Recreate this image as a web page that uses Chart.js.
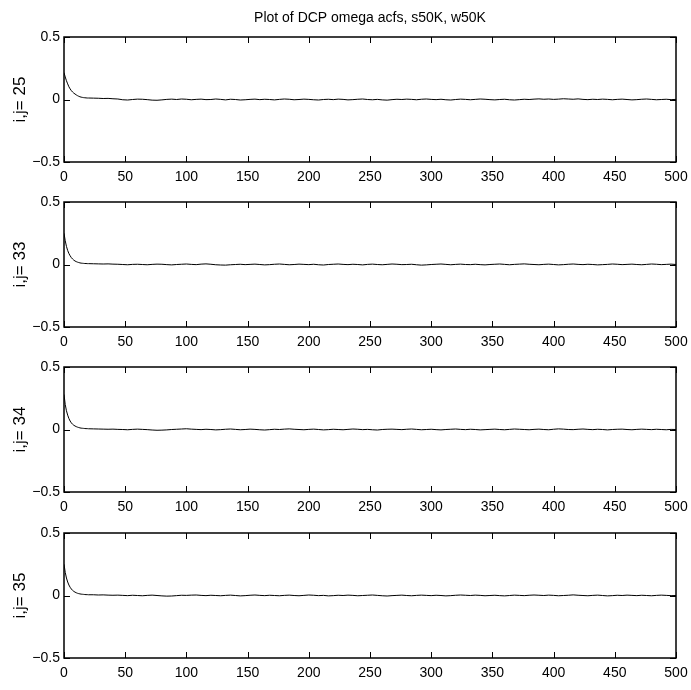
<!DOCTYPE html>
<html><head><meta charset="utf-8">
<script src="https://cdn.jsdelivr.net/npm/chart.js@4"></script>
<style>
html,body{margin:0;padding:0;background:#fff;}
#wrap{position:relative;width:691px;height:690px;overflow:hidden;background:#fff;}
canvas{position:absolute;left:0;}
</style></head><body><div id="wrap">
<canvas id="c0" width="691" height="189" style="top:0px"></canvas>
<canvas id="c1" width="691" height="162" style="top:192px"></canvas>
<canvas id="c2" width="691" height="162" style="top:357px"></canvas>
<canvas id="c3" width="691" height="162" style="top:523px"></canvas>
</div>
<script>
const titleText = 'Plot of DCP omega acfs, s50K, w50K';
const panelLabels = ['i,j= 25', 'i,j= 33', 'i,j= 34', 'i,j= 35'];
const xTicks = [0, 50, 100, 150, 200, 250, 300, 350, 400, 450, 500];
const yTicks = [-0.5, 0, 0.5];

const lags = [
  0,1,2,3,4,5,6,7,8,9,10,11,12,13,14,15,16,17,18,19,20,
  24,28,32,36,40,44,48,52,56,60,
  64,68,72,76,80,84,88,92,96,100,
  104,108,112,116,120,124,128,132,136,140,
  144,148,152,156,160,164,168,172,176,180,
  184,188,192,196,200,204,208,212,216,220,
  224,228,232,236,240,244,248,252,256,260,
  264,268,272,276,280,284,288,292,296,300,
  304,308,312,316,320,324,328,332,336,340,
  344,348,352,356,360,364,368,372,376,380,
  384,388,392,396,400,404,408,412,416,420,
  424,428,432,436,440,444,448,452,456,460,
  464,468,472,476,480,484,488,492,496,500
];

const acf25 = [
  0.215,0.18,0.15,0.125,0.102,0.085,0.071,0.06,0.051,0.044,0.037,0.031,0.026,0.022,0.019,0.017,0.015,0.014,0.013,0.012,0.012,
  0.011,0.010,0.008,0.009,0.006,0.004,-0.002,-0.004,0.000,0.003,
  0.002,-0.001,-0.005,-0.006,-0.003,0.001,0.003,0.000,0.004,0.002,
  -0.002,0.001,0.003,-0.001,0.000,0.004,0.001,-0.003,0.002,0.000,
  -0.004,-0.002,0.001,0.003,-0.001,0.002,0.000,-0.003,0.001,0.004,
  0.002,-0.002,0.000,0.003,0.001,-0.002,-0.004,0.000,0.002,-0.001,
  0.003,0.001,-0.003,-0.001,0.002,0.004,0.000,-0.002,0.001,-0.003,
  -0.005,-0.001,0.002,0.000,0.003,0.001,-0.002,0.002,0.004,0.001,
  -0.001,0.002,-0.002,-0.004,0.000,0.003,0.001,-0.002,0.001,0.004,
  0.002,-0.001,-0.003,0.000,0.002,-0.002,-0.004,-0.001,0.002,0.000,
  0.003,0.005,0.002,0.004,0.001,0.003,0.006,0.004,0.002,0.005,
  0.001,-0.001,0.002,0.000,0.003,0.001,-0.002,0.001,0.003,0.000,
  -0.003,-0.001,0.002,0.004,0.001,-0.002,0.000,0.002,-0.001,0.001
];
const acf33 = [
  0.25,0.19,0.145,0.112,0.088,0.07,0.055,0.044,0.035,0.028,0.023,0.019,0.016,0.013,0.011,0.010,0.009,0.008,0.008,0.007,0.007,
  0.006,0.005,0.004,0.005,0.003,0.002,0.000,-0.002,0.001,0.002,
  0.000,-0.002,0.001,0.003,0.002,-0.001,-0.003,0.000,0.002,0.004,
  0.001,-0.001,0.003,0.005,0.002,-0.002,-0.004,-0.005,-0.002,0.000,
  0.002,-0.001,0.001,0.003,0.000,-0.003,-0.001,0.002,0.004,0.001,
  -0.002,0.000,0.003,0.001,-0.001,0.002,-0.002,-0.004,0.000,0.002,
  0.004,0.001,-0.001,0.002,0.000,-0.003,0.001,0.003,0.000,-0.002,
  0.001,0.004,0.002,-0.001,0.000,0.002,-0.002,-0.005,-0.003,0.000,
  0.002,0.004,0.001,-0.002,0.001,0.003,0.000,-0.001,0.002,-0.001,
  -0.003,0.000,0.002,0.004,0.001,-0.002,0.001,0.003,0.005,0.002,
  0.000,-0.002,0.001,0.003,0.000,-0.003,-0.001,0.002,0.004,0.001,
  -0.001,0.002,0.000,-0.003,-0.001,0.001,0.004,0.002,-0.001,0.001,
  0.003,0.000,-0.002,0.001,0.004,0.002,-0.001,0.001,0.003,0.000
];
const acf34 = [
  0.28,0.2,0.15,0.115,0.088,0.068,0.053,0.042,0.034,0.028,0.023,0.019,0.016,0.013,0.011,0.010,0.009,0.008,0.007,0.007,0.006,
  0.005,0.004,0.003,0.002,0.003,0.001,0.000,-0.002,0.001,0.003,
  0.001,-0.001,-0.004,-0.006,-0.005,-0.003,0.000,0.002,0.004,0.006,
  0.003,0.001,-0.001,0.002,0.000,-0.003,-0.001,0.002,0.004,0.001,
  -0.002,0.000,0.003,0.001,-0.002,-0.004,-0.001,0.002,0.000,0.003,
  0.005,0.002,0.000,-0.002,0.001,0.003,0.000,-0.003,-0.001,0.002,
  0.000,-0.002,0.001,0.004,0.002,-0.001,0.001,-0.002,-0.004,0.000,
  0.002,0.003,0.001,-0.001,0.002,0.004,0.001,-0.002,0.000,0.002,
  -0.001,-0.003,0.000,0.002,0.004,0.001,-0.001,0.002,0.000,-0.003,
  -0.001,0.001,0.003,0.000,-0.002,0.001,0.004,0.002,0.000,-0.002,
  0.001,0.003,0.000,-0.002,0.002,0.005,0.003,0.000,-0.001,0.002,
  0.004,0.001,-0.001,0.002,0.000,-0.003,0.000,0.002,0.003,0.000,
  -0.002,0.001,0.003,0.001,-0.001,0.002,0.000,-0.002,0.001,0.000
];
const acf35 = [
  0.25,0.185,0.14,0.108,0.084,0.066,0.052,0.041,0.033,0.027,0.022,0.018,0.015,0.013,0.011,0.010,0.009,0.008,0.007,0.007,0.006,
  0.006,0.004,0.005,0.003,0.002,0.003,0.001,-0.001,0.002,0.000,
  -0.002,0.001,0.003,0.000,-0.003,-0.005,-0.004,-0.001,0.002,0.001,
  0.003,0.004,0.001,-0.001,0.002,0.000,-0.002,0.001,0.003,0.000,
  -0.003,-0.001,0.002,0.004,0.001,-0.001,0.002,0.000,-0.002,0.001,
  0.003,0.000,-0.002,0.001,0.004,0.002,-0.001,0.001,-0.003,-0.001,
  0.002,0.000,0.003,0.001,-0.002,0.000,0.002,0.004,0.001,-0.002,
  -0.004,-0.001,0.001,0.003,0.000,-0.002,0.001,0.003,0.001,-0.001,
  0.002,0.000,-0.003,-0.001,0.002,0.004,0.002,0.000,0.003,0.001,
  -0.002,0.000,0.002,-0.001,-0.003,0.000,0.003,0.001,-0.001,0.002,
  0.004,0.002,0.000,0.003,0.001,-0.002,0.000,0.002,0.005,0.002,
  0.000,-0.002,0.001,0.003,0.000,-0.003,-0.001,0.002,0.000,0.003,
  0.001,-0.001,0.002,0.000,-0.002,0.001,0.003,0.001,-0.001,0.000
];
const seriesList = [acf25, acf33, acf34, acf35];

const FONT = "'Liberation Sans', Arial, Helvetica, sans-serif";
const TICK = 6;

const boxTicks = {
  id: 'boxTicks',
  afterDraw(chart) {
    const {ctx, chartArea: a, scales: {x, y}} = chart;
    ctx.save();
    ctx.strokeStyle = '#000';
    ctx.lineWidth = 1;
    ctx.beginPath();
    x.ticks.forEach(t => {
      const px = Math.round(x.getPixelForValue(t.value)) + 0.5;
      ctx.moveTo(px, a.bottom); ctx.lineTo(px, a.bottom - TICK);
      ctx.moveTo(px, a.top); ctx.lineTo(px, a.top + TICK);
    });
    y.ticks.forEach(t => {
      const py = Math.round(y.getPixelForValue(t.value)) + 0.5;
      ctx.moveTo(a.left, py); ctx.lineTo(a.left + TICK, py);
      ctx.moveTo(a.right, py); ctx.lineTo(a.right - TICK, py);
    });
    ctx.stroke();
    ctx.lineWidth = 1.5;
    ctx.strokeRect(a.left, a.top, a.right - a.left, a.bottom - a.top);
    ctx.restore();
  }
};

seriesList.forEach((vals, i) => {
  const first = i === 0;
  new Chart(document.getElementById('c' + i), {
    type: 'line',
    data: {
      datasets: [{
        data: lags.map((l, k) => ({x: l, y: vals[k]})),
        borderColor: '#000',
        borderWidth: 1,
        pointRadius: 0,
        tension: 0,
        fill: false
      }]
    },
    options: {
      responsive: false,
      animation: false,
      devicePixelRatio: 1,
      layout: {padding: {left: 0, right: 15, top: first ? 0 : 10, bottom: 0}},
      plugins: {
        legend: {display: false},
        tooltip: {enabled: false},
        title: {
          display: first,
          text: titleText,
          fullSize: false,
          color: '#000',
          font: {family: FONT, size: 14, weight: 'normal'},
          padding: {top: 10, bottom: 10.2}
        }
      },
      scales: {
        x: {
          type: 'linear',
          min: 0, max: 500,
          afterBuildTicks: s => { s.ticks = xTicks.map(v => ({value: v})); },
          ticks: {color: '#000', font: {family: FONT, size: 14}, padding: 7, maxRotation: 0, autoSkip: false},
          grid: {display: false, drawTicks: false},
          border: {display: false},
          afterFit: s => { s.height = 27; s.paddingLeft = 0; s.paddingRight = 0; }
        },
        y: {
          min: -0.5, max: 0.5,
          afterBuildTicks: s => { s.ticks = yTicks.map(v => ({value: v})); },
          ticks: {
            color: '#000', font: {family: FONT, size: 14}, padding: 4,
            callback: v => v === 0 ? '0' : (v < 0 ? '\u2212' : '') + Math.abs(v)
          },
          grid: {display: false, drawTicks: false},
          border: {display: false},
          title: {display: true, text: panelLabels[i], color: '#000',
                  font: {family: FONT, size: 17}, padding: {top: 10, bottom: 0}},
          afterFit: s => { s.width = 64; s.paddingTop = 0; s.paddingBottom = 0; }
        }
      }
    },
    plugins: [boxTicks]
  });
});
</script>
</body></html>
